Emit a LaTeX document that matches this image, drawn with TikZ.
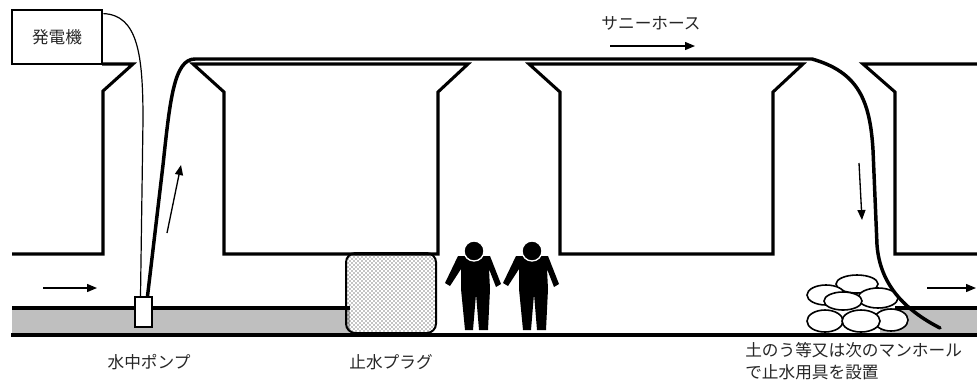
\documentclass[tikz,border=0pt]{standalone}
\usepackage{fontspec}
\setmainfont{Noto Sans CJK JP}
\usetikzlibrary{arrows.meta,patterns,calc}
\begin{document}
\begin{tikzpicture}[x=0.75pt,y=-0.75pt,
  wall/.style={line width=2.3pt, line join=miter},
  hose/.style={line width=2.6pt, line cap=round, line join=round},
  cable/.style={line width=0.9pt},
  flow/.style={line width=1pt, -{Triangle[length=7.5pt,width=6pt]}},
  lbl/.style={font=\fontsize{12.5pt}{15pt}\selectfont, text=black!85, inner sep=0pt},
  genbox/.style={draw, line width=2.1pt, minimum width=67.5pt, minimum height=40.5pt, lbl},
  pumpbox/.style={draw, fill=white, line width=1.2pt, minimum width=12.75pt, minimum height=22.5pt, inner sep=0pt},
  plugbox/.style={draw, line width=1.5pt, rounded corners=7pt, pattern=crosshatch dots, pattern color=black, minimum width=67.5pt, minimum height=60pt, inner sep=0pt},
  water/.style={fill=black!25},
  bag/.style={draw, fill=white, line width=1.2pt},
  person/.pic={
    \fill (-16,5) -- (-29,32) -- (-24,35) -- (-13,18) -- (-13,38) -- (-9,79) -- (-1,79)
          -- (2,43) -- (5,79) -- (14,79) -- (16,38) -- (15,18) -- (22,36) -- (27,33) -- (16,5) -- cycle;
    \fill[draw=white, line width=1pt] (0,0) circle [radius=10];
  }
]
\useasboundingbox (0,0) rectangle (977,387);

% water in the sewer pipe
\fill[water] (12,308) rectangle (350,335);
\fill[water] (880,308) rectangle (977,335);
\draw[wall] (12,308) -- (350,308);
\draw[wall] (895,308) -- (977,308);
\draw[wall] (11,335) -- (977,335);

% ground blocks between the manholes
\draw[wall] (102,64) -- (133,64) -- (103,91) -- (103,254) -- (12,254);
\draw[wall] (224,254) -- (224,92) -- (193,64) -- (468,64) -- (438,92) -- (438,254) -- cycle;
\draw[wall] (560,254) -- (560,92) -- (529,64) -- (803,64) -- (773,92) -- (773,254) -- cycle;
\draw[wall] (977,64) -- (863,64) -- (895,92) -- (895,254) -- (977,254);

% generator and pump
\node[genbox] (gen) at (57,37) {発電機};
\node[pumpbox] (pump) at (143.5,312) {};
\draw[cable] ($(gen.north east)+(0,5)$) .. controls (138,15) and (143,55) .. (143,120)
  -- ($(pump.north)+(-3,0)$);

% sandbags
\draw[bag] (857,284) ellipse [x radius=21, y radius=9];
\draw[bag] (826,295) ellipse [x radius=19, y radius=10];
\draw[bag] (878,298) ellipse [x radius=20, y radius=10];
\draw[bag] (843,301) ellipse [x radius=19, y radius=9];
\draw[bag] (825,321) ellipse [x radius=18, y radius=11];
\draw[bag] (891,320) ellipse [x radius=17, y radius=11];
\draw[bag] (861,321) ellipse [x radius=19, y radius=11];

% hose
\coordinate (hoseend) at (940,328);
\draw[hose] ($(pump.north)+(4,0)$) -- (163,165) .. controls (170,100) and (174,59) .. (195,59)
  -- (812,59) .. controls (858,72) and (870,100) .. (873,150) -- (877,245)
  .. controls (880,285) and (905,310) .. (hoseend);

% plug and workers
\node[plugbox] (plug) at (391,293) {};
\pic at (474,251) {person};
\pic at (532,251) {person};

% flow arrows
\coordinate (fa1) at (43,288);  \coordinate (fb1) at (97,288);
\coordinate (fa2) at (167,233); \coordinate (fb2) at (181,165);
\coordinate (fa3) at (610,46);  \coordinate (fb3) at (695,46);
\coordinate (fa4) at (859,163); \coordinate (fb4) at (862,220);
\coordinate (fa5) at (927,288); \coordinate (fb5) at (976,288);
\draw[flow] (fa1) -- (fb1);
\draw[flow] (fa2) -- (fb2);
\draw[flow] (fa3) -- (fb3);
\draw[flow] (fa4) -- (fb4);
\draw[flow] (fa5) -- (fb5);

% labels
\node[lbl] (lhose) at (651,23) {サニーホース};
\node[lbl] (lpump) at (149,362) {水中ポンプ};
\node[lbl] (lplug) at (391,362) {止水プラグ};
\node[lbl, anchor=west] (lbag1) at (745,350) {土のう等又は次のマンホール};
\node[lbl, anchor=west] (lbag2) at (745,372) {で止水用具を設置};
\end{tikzpicture}
\end{document}
